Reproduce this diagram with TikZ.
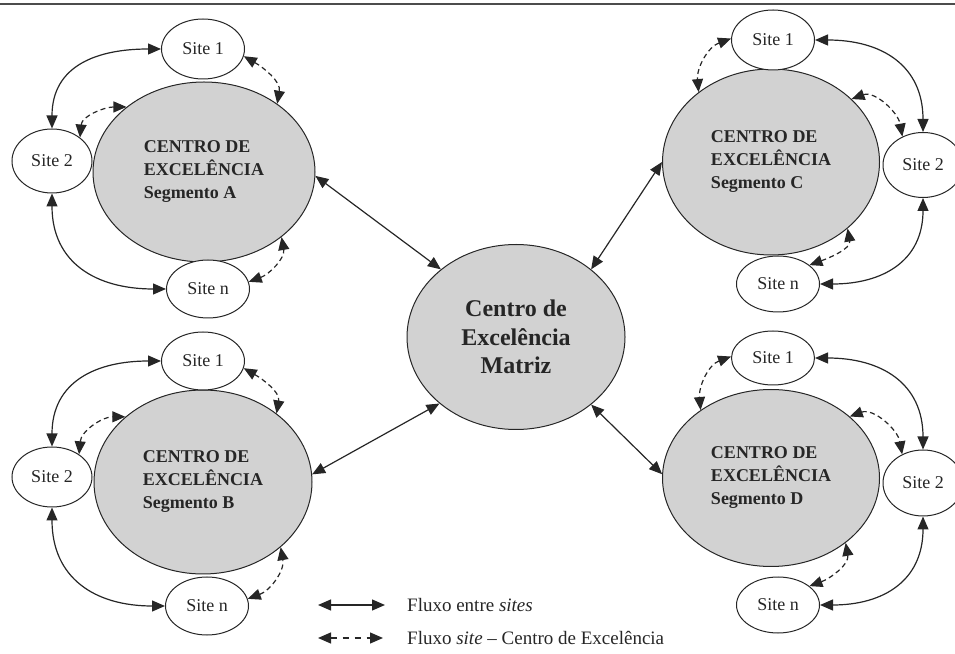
\documentclass[tikz,border=0pt]{standalone}
\usepackage{fontspec}
\setmainfont{Liberation Serif}
\usetikzlibrary{shapes.geometric,arrows.meta}

\tikzset{
  centro/.style={ellipse, draw=black!85, line width=1pt, fill=gray!35, inner sep=0pt,
    minimum width=218pt, minimum height=182pt, align=left,
    font=\fontsize{18}{23}\selectfont\bfseries, text=black!85},
  matriz/.style={centro, align=center, font=\fontsize{24}{28.5}\selectfont\bfseries},
  site/.style={ellipse, draw=black!85, line width=1pt, fill=white, inner sep=0pt,
    minimum width=83pt, minimum height=58pt, font=\fontsize{18}{22}\selectfont, text=black!85},
  fluxo/.style={draw=black!85, line width=1.2pt,
    {Triangle[length=13pt,width=11pt]}-{Triangle[length=13pt,width=11pt]}},
  fluxosite/.style={fluxo, dash pattern=on 5pt off 3.5pt},
  legenda/.style={anchor=west, inner sep=0pt, font=\fontsize{19}{23}\selectfont, text=black!85}
}

\begin{document}
\begin{tikzpicture}[x=1pt,y=1pt]
        \useasboundingbox (0,0) rectangle (955,653);
        \coordinate (topL) at (0,649);
        \coordinate (topR) at (955,649);
        \draw[line width=1.3pt, black!70] (topL) -- (topR);

        % Матрица
        \node[matriz, minimum width=218pt, minimum height=185pt] (M) at (516,316) {Centro de\\Excelência\\Matriz};

        % Сегмент A
        \node[centro, minimum width=222pt, minimum height=180pt] (A) at (204,481) {CENTRO DE\\EXCELÊNCIA\\Segmento A};
        \node[site, minimum height=60pt] (A1) at (203,604) {Site 1};
        \node[site, minimum width=80pt, minimum height=64pt] (A2) at (52,492) {Site 2};
        \node[site] (An) at (208,364) {Site n};

        % Сегмент B
        \node[centro, minimum height=184pt] (B) at (203,171) {CENTRO DE\\EXCELÊNCIA\\Segmento B};
        \node[site] (B1) at (203,292) {Site 1};
        \node[site, minimum width=80pt, minimum height=60pt] (B2) at (52,176) {Site 2};
        \node[site] (Bn) at (207,47) {Site n};

        % Сегмент C
        \node[centro, minimum width=217pt, minimum height=186pt] (C) at (771,491) {CENTRO DE\\EXCELÊNCIA\\Segmento C};
        \node[site, minimum height=60pt] (C1) at (773,613) {Site 1};
        \node[site, minimum width=80pt, minimum height=65pt] (C2) at (923,488) {Site 2};
        \node[site, minimum height=56pt] (Cn) at (778,369) {Site n};

        % Сегмент D
        \node[centro, minimum width=217pt, minimum height=177pt] (D) at (771,175) {CENTRO DE\\EXCELÊNCIA\\Segmento D};
        \node[site, minimum height=54pt] (D1) at (773,295) {Site 1};
        \node[site, minimum width=80pt, minimum height=66pt] (D2) at (923,170) {Site 2};
        \node[site, minimum height=56pt] (Dn) at (778,48) {Site n};

        % Линии к матрице
        \draw[fluxo] (A.-2) -- (M.138);
        \draw[fluxo] (B.4) -- (M.221);
        \draw[fluxo] (C.180) -- (M.42);
        \draw[fluxo] (D.178) -- (M.-42);

        % Линии A
        \draw[fluxo] (A2.north) to[out=90,in=180,looseness=1.2] (A1.west);
        \draw[fluxo] (A2.south) to[out=-90,in=180,looseness=1.2] (An.west);
        \draw[fluxosite] (A2.40) to[out=85,in=180] (A.140);
        \draw[fluxosite] (A1.-10) to[out=-30,in=80] (A.43);
        \draw[fluxosite] (An.10) to[out=20,in=-80] (A.-40);

        % Линии B
        \draw[fluxo] (B2.north) to[out=90,in=180,looseness=1.2] (B1.west);
        \draw[fluxo] (B2.south) to[out=-90,in=180,looseness=1.2] (Bn.west);
        \draw[fluxosite] (B2.40) to[out=85,in=180] (B.140);
        \draw[fluxosite] (B1.-10) to[out=-30,in=80] (B.43);
        \draw[fluxosite] (Bn.10) to[out=20,in=-80] (B.-40);

        % Линии C
        \draw[fluxo] (C1.east) to[out=0,in=90,looseness=1.2] (C2.north);
        \draw[fluxo] (Cn.east) to[out=0,in=-90,looseness=1.2] (C2.south);
        \draw[fluxosite] (C1.178) to[out=200,in=95] (C.136);
        \draw[fluxosite] (C.38) to[out=20,in=100] (C2.126);
        \draw[fluxosite] (Cn.31) to[out=20,in=-80] (C.-41);

        % Линии D
        \draw[fluxo] (D1.east) to[out=0,in=90,looseness=1.2] (D2.north);
        \draw[fluxo] (Dn.east) to[out=0,in=-90,looseness=1.2] (D2.south);
        \draw[fluxosite] (D1.178) to[out=200,in=95] (D.136);
        \draw[fluxosite] (D.38) to[out=20,in=100] (D2.126);
        \draw[fluxosite] (Dn.31) to[out=20,in=-80] (D.-41);

        % Легенда
        \coordinate (L1a) at (318,48);
        \coordinate (L1b) at (385,48);
        \coordinate (L2a) at (318,15);
        \coordinate (L2b) at (383,15);
        \draw[fluxo] (L1a) -- (L1b);
        \draw[fluxosite, dash pattern=on 6pt off 6pt] (L2a) -- (L2b);
        \node[legenda] (T1) at (407,48) {Fluxo entre \textit{sites}};
        \node[legenda] (T2) at (407,15) {Fluxo \textit{site} – Centro de Excelência};
    \end{tikzpicture}
\end{document}
